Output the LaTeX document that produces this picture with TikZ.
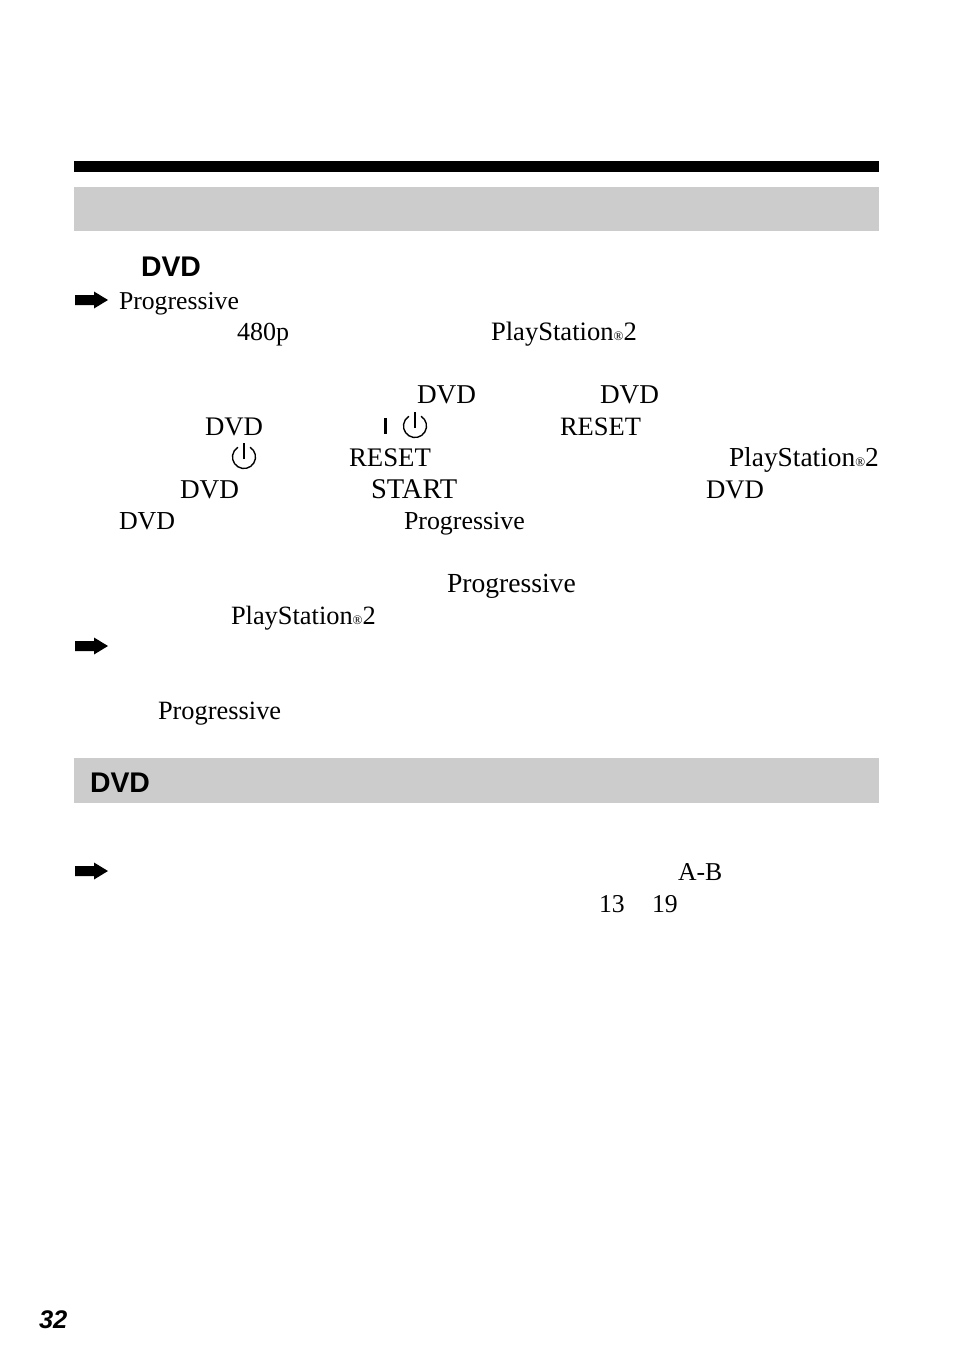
\documentclass[tikz,border=0pt]{standalone}
\usepackage{fontspec}
\setmainfont{Liberation Serif}
\setsansfont{Liberation Sans}
\definecolor{barblack}{HTML}{000000}
\definecolor{bargrey}{HTML}{CCCCCC}
\usetikzlibrary{shapes,arrows.meta,positioning,calc}
\newcommand{\regmark}{{\fontsize{13}{13}\selectfont ®}}
\begin{document}
\begin{tikzpicture}[
      x=1pt, y=-1pt,
      bodytext/.style={anchor=base west, inner sep=0pt, outer sep=0pt, font=\fontsize{#1}{26}\selectfont},
      bodytext/.default=25.7,
      headtext/.style={anchor=base west, inner sep=0pt, outer sep=0pt, font=\fontsize{28.4}{29}\selectfont\sffamily\bfseries},
      pagetext/.style={anchor=base west, inner sep=0pt, outer sep=0pt, font=\fontsize{25.5}{26}\selectfont\sffamily\bfseries\itshape},
      greybar/.style={fill=bargrey, draw=none},
      arrowmark/.pic={\fill[black] (0,-5) -- (19,-5) -- (19,-8.5) -- (33,0) -- (19,8.5) -- (19,5) -- (0,5) -- cycle;},
      powermark/.pic={\draw[line width=1.4pt] (-58:11.5) arc[start angle=-58, end angle=238, radius=11.5]; \draw[line width=1.4pt] (0,2) -- (0,-14);}
    ]
      \useasboundingbox (0,0) rectangle (954,1357);
      \fill[barblack] (74,161) rectangle (879,172);
      \fill[greybar] (74,187) rectangle (879,231);
      \fill[greybar] (74,758) rectangle (879,803);
      % first block
      \node[headtext] (dvdhead) at (141,276) {DVD};
      \pic at (75,300) {arrowmark};
      \node[bodytext] (proga) at (119,309) {Progressive};
      \node[bodytext=26] (resa) at (237,340) {480p};
      \node[bodytext=26.6] (psa) at (491,340) {PlayStation\regmark 2};
      \node[bodytext=27.2] (dvda) at (417,403) {DVD};
      \node[bodytext=27.2] (dvdb) at (600,403) {DVD};
      \node[bodytext=26.8] (dvdc) at (205,435) {DVD};
      \draw[line width=3pt] (385,418) -- (385,434);
      \pic at (415,426) {powermark};
      \node[bodytext=26.5] (reseta) at (560,435) {RESET};
      \pic at (244,457) {powermark};
      \node[bodytext=26.8] (resetb) at (349,466) {RESET};
      \node[bodytext=27.4] (psb) at (729,466) {PlayStation\regmark 2};
      \node[bodytext=27.2] (dvdd) at (180,498) {DVD};
      \node[bodytext=28.5] (starta) at (371,498) {START};
      \node[bodytext=26.8] (dvde) at (706,498) {DVD};
      \node[bodytext=25.9] (dvdf) at (119,529) {DVD};
      \node[bodytext=25.9] (progb) at (404,529) {Progressive};
      % second block
      \node[bodytext=27.6] (progc) at (447,592) {Progressive};
      \node[bodytext=26.4] (psc) at (231,624) {PlayStation\regmark 2};
      \pic at (75,646) {arrowmark};
      \node[bodytext=26.4] (progd) at (158,719) {Progressive};
      % lower section
      \node[headtext] (dvdheadb) at (90,792) {DVD};
      \pic at (75,871) {arrowmark};
      \node[bodytext] (abrep) at (678,880) {A-B};
      \node[bodytext] (numa) at (599,912) {13};
      \node[bodytext] (numb) at (652,912) {19};
      \node[pagetext] (pagenum) at (39,1328) {32};
    \end{tikzpicture}
\end{document}
